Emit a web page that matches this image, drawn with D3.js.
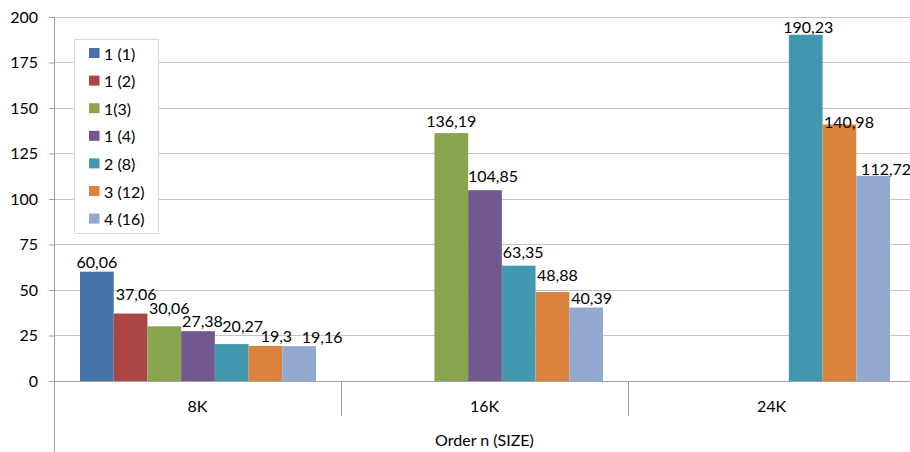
<!DOCTYPE html>
<html><head><meta charset="utf-8">
<script src="https://cdn.jsdelivr.net/npm/d3@7"></script>
<style>body{margin:0;background:#fff}svg{display:block}text{font-family:Lato,"Open Sans",sans-serif;fill:#000}</style>
</head><body><svg id="c" width="910" height="452"></svg>
<script>
const categories = ["8K", "16K", "24K"];
const seriesNames = ["1 (1)", "1 (2)", "1(3)", "1 (4)", "2 (8)", "3 (12)", "4 (16)"];
const values8K  = [60.06, 37.06, 30.06, 27.38, 20.27, 19.3, 19.16];
const values16K = [null, null, 136.19, 104.85, 63.35, 48.88, 40.39];
const values24K = [null, null, null, null, 190.23, 140.98, 112.72];
const yTicks = [0, 25, 50, 75, 100, 125, 150, 175, 200];
const colors = ["#4572A7", "#AA4643", "#89A54E", "#71588F", "#4198AF", "#DB843D", "#93A9CF"];
const xTitle = "Order n (SIZE)";

// label placement nudges (layout only): horizontal shift and gap above bar top, in px
const labelShiftX = [[0, 5.5, 5, 4.5, 11, 11, 23], [0, 0, 0, 8, 4.5, 5, 5.5], [0, 0, 0, 0, 2.5, 9.5, 13]];
const labelGap    = [[3.5, 14, 12.5, 4.5, 12, 3.5, 3.5], [0, 0, 6, 8, 8, 11, 3], [0, 0, 0, 0, 1.5, -4, 1]];

const rows = [values8K, values16K, values24K];
const svg = d3.select("#c");
const mLeft = 54, mTop = 17, mBottom = 381, catW = 287;
const x0 = d3.scaleBand().domain(categories).range([mLeft, mLeft + catW * 3]);
const x1 = d3.scaleBand().domain(seriesNames).range([26, catW - 25]);
const y = d3.scaleLinear().domain([0, 200]).range([mBottom, mTop]);

// gridlines
svg.append("g").selectAll("line").data(yTicks.filter(d => d > 0)).join("line")
  .attr("x1", mLeft).attr("x2", 910).attr("y1", d => y(d)).attr("y2", d => y(d))
  .attr("stroke", "#c4c4c4").attr("stroke-width", 1).attr("shape-rendering", "crispEdges");

// y axis
const yAxis = svg.append("g").attr("transform", `translate(${mLeft},0)`)
  .call(d3.axisLeft(y).tickValues(yTicks).tickSize(5).tickPadding(11));
yAxis.select(".domain").remove();
yAxis.selectAll("line").attr("stroke", "#a0a0a0");
yAxis.selectAll("text").attr("font-size", 16).attr("font-family", "Lato");
svg.append("line").attr("x1", mLeft).attr("x2", mLeft).attr("y1", mTop).attr("y2", 452)
  .attr("stroke", "#a0a0a0").attr("shape-rendering", "crispEdges");

// bars
const groups = svg.append("g").selectAll("g").data(categories).join("g")
  .attr("transform", d => `translate(${x0(d)},0)`);
const fmt = v => String(v).replace(".", ",");
groups.each(function (cat, ci) {
  const data = seriesNames.map((s, i) => ({ s, i, v: rows[ci][i] })).filter(d => d.v != null);
  const g = d3.select(this);
  g.selectAll("rect").data(data).join("rect")
    .attr("x", d => x1(d.s)).attr("width", x1.bandwidth())
    .attr("y", d => y(d.v)).attr("height", d => y(0) - y(d.v))
    .attr("fill", d => colors[d.i]);
  g.selectAll("text").data(data).join("text")
    .attr("x", d => x1(d.s) + x1.bandwidth() / 2 + labelShiftX[ci][d.i])
    .attr("y", d => y(d.v) - labelGap[ci][d.i])
    .attr("text-anchor", "middle").attr("font-size", 16).text(d => fmt(d.v));
});

// x axis
svg.append("line").attr("x1", mLeft).attr("x2", 910).attr("y1", mBottom + 0.5).attr("y2", mBottom + 0.5)
  .attr("stroke", "#a0a0a0");
svg.append("g").selectAll("line").data(categories.slice(1).concat(["end"])).join("line")
  .attr("x1", (d, i) => mLeft + catW * (i + 1) + 0.5).attr("x2", (d, i) => mLeft + catW * (i + 1) + 0.5)
  .attr("y1", mBottom).attr("y2", 416).attr("stroke", "#a0a0a0");
svg.append("g").selectAll("text").data(categories).join("text")
  .attr("x", d => x0(d) + catW / 2).attr("y", 412).attr("text-anchor", "middle")
  .attr("font-size", 16).text(d => d);
svg.append("text").attr("x", mLeft + catW * 1.5).attr("y", 446).attr("text-anchor", "middle")
  .attr("font-size", 16).text(xTitle);

// legend
const lg = svg.append("g").attr("transform", "translate(74,39)");
lg.append("rect").attr("x", 0.5).attr("y", 0.5).attr("width", 84).attr("height", 194)
  .attr("fill", "#fff").attr("stroke", "#d9d9d9");
const items = lg.selectAll("g").data(seriesNames).join("g")
  .attr("transform", (d, i) => `translate(15,${14 + i * 27.6})`);
items.append("rect").attr("x", 0).attr("y", -5).attr("width", 10.5).attr("height", 10)
  .attr("fill", (d, i) => colors[i]);
items.append("text").attr("x", 15).attr("y", 6.5).attr("font-size", 16).text(d => d);
</script></body></html>
